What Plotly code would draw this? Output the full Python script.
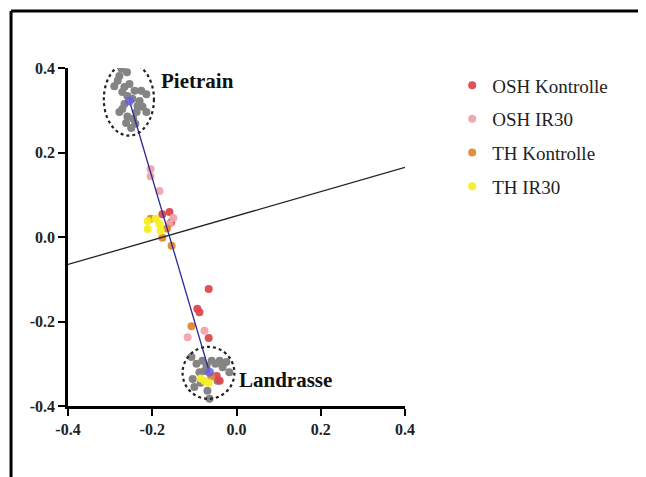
import plotly.graph_objects as go

# ---- data ----
pietrain_x = [-0.273, -0.278, -0.290, -0.266, -0.254, -0.271, -0.259, -0.242, -0.226, -0.214,
              -0.247, -0.230, -0.266, -0.223, -0.271, -0.278, -0.237, -0.214, -0.259, -0.245,
              -0.262, -0.240, -0.250, -0.282, -0.260, -0.235]
pietrain_y = [0.398, 0.381, 0.357, 0.355, 0.362, 0.343, 0.334, 0.346, 0.346, 0.338,
              0.327, 0.322, 0.315, 0.308, 0.303, 0.296, 0.296, 0.296, 0.285, 0.280,
              0.270, 0.268, 0.258, 0.370, 0.390, 0.310]
landrasse_x = [-0.107, -0.081, -0.071, -0.059, -0.040, -0.024, -0.088, -0.076, -0.033, -0.017,
               -0.104, -0.100, -0.069, -0.064, -0.050, -0.095, -0.045, -0.085]
landrasse_y = [-0.284, -0.293, -0.305, -0.293, -0.293, -0.296, -0.320, -0.317, -0.308, -0.320,
               -0.336, -0.355, -0.364, -0.383, -0.300, -0.300, -0.340, -0.345]

osh_k_x = [-0.159, -0.176, -0.066, -0.093, -0.088, -0.066, -0.047, -0.040, -0.155]
osh_k_y = [0.059, 0.054, -0.123, -0.170, -0.178, -0.239, -0.329, -0.340, 0.035]
osh_ir_x = [-0.204, -0.204, -0.183, -0.159, -0.116, -0.076, -0.150]
osh_ir_y = [0.161, 0.144, 0.109, 0.031, -0.237, -0.222, 0.045]
th_k_x = [-0.204, -0.107, -0.154, -0.176, -0.165, -0.060]
th_k_y = [0.043, -0.211, -0.021, -0.002, 0.020, -0.330]
th_ir_x = [-0.211, -0.211, -0.192, -0.183, -0.180, -0.076, -0.066, -0.085]
th_ir_y = [0.038, 0.019, 0.043, 0.031, 0.015, -0.341, -0.345, -0.335]

centroid_x = [-0.254, -0.064]
centroid_y = [0.322, -0.320]
reg_x = [-0.4, 0.4]
reg_y = [-0.065, 0.165]

group_names = ["OSH Kontrolle", "OSH IR30", "TH Kontrolle", "TH IR30"]
tick_vals = [-0.4, -0.2, 0.0, 0.2, 0.4]
tick_text = ["-0.4", "-0.2", "0.0", "0.2", "0.4"]

colors = ["#dc4850", "#f0a3ab", "#df8a2e", "#f6ee22"]
serif = "Liberation Serif, Times New Roman, serif"

fig = go.Figure()
fig.add_trace(go.Scatter(x=pietrain_x + landrasse_x, y=pietrain_y + landrasse_y, mode="markers",
                         marker=dict(color="#848484", size=8), showlegend=False, hoverinfo="skip"))

groups = [(osh_k_x, osh_k_y), (osh_ir_x, osh_ir_y), (th_k_x, th_k_y), (th_ir_x, th_ir_y)]
for i, ((gx, gy), name) in enumerate(zip(groups, group_names)):
    fig.add_trace(go.Scatter(x=gx, y=gy, mode="markers", name=name, legendgroup=name,
                             marker=dict(color=colors[i], size=8, opacity=0.95)))

fig.add_trace(go.Scatter(x=reg_x, y=reg_y, mode="lines", line=dict(color="#222222", width=1.3),
                         showlegend=False, hoverinfo="skip"))
fig.add_trace(go.Scatter(x=centroid_x, y=centroid_y, mode="lines+markers",
                         line=dict(color="#2a2a9a", width=1.3),
                         marker=dict(color="#6a5ee0", size=9, opacity=0.85),
                         showlegend=False, hoverinfo="skip"))

axis_common = dict(range=[-0.4, 0.4], tickvals=tick_vals, ticktext=tick_text,
                   showgrid=False, zeroline=False, showline=True, linecolor="black",
                   linewidth=2.5, ticks="outside", ticklen=7, tickwidth=2, tickcolor="black",
                   tickfont=dict(family=serif, size=16, color="#222222", weight="bold"))

fig.update_layout(
    width=638, height=469,
    margin=dict(l=60, r=241, t=60, b=71),
    paper_bgcolor="white", plot_bgcolor="white",
    xaxis=axis_common, yaxis=axis_common,
    showlegend=True,
    legend=dict(x=1.14, y=1.005, xanchor="left", yanchor="top", xref="paper",
                font=dict(family=serif, size=19, color="#222222"),
                tracegroupgap=6, itemsizing="trace", bgcolor="rgba(0,0,0,0)"),
    shapes=[
        dict(type="circle", xref="x", yref="y", x0=-0.315, x1=-0.196, y0=0.240, y1=0.412,
             line=dict(color="#222222", width=2.2, dash="dot")),
        dict(type="circle", xref="x", yref="y", x0=-0.128, x1=-0.005, y0=-0.383, y1=-0.260,
             line=dict(color="#222222", width=2.2, dash="dot")),
        dict(type="line", xref="paper", yref="paper", x0=-0.169, x1=2.0, y0=1.169, y1=1.169,
             line=dict(color="black", width=3)),
        dict(type="line", xref="paper", yref="paper", x0=-0.169, x1=-0.169, y0=1.169, y1=-1.0,
             line=dict(color="black", width=3)),
    ],
    annotations=[
        dict(x=-0.185, y=0.369, xref="x", yref="y", text="<b>Pietrain</b>", showarrow=False,
             xanchor="left", yanchor="middle", font=dict(family=serif, size=21, color="#111111")),
        dict(x=0.002, y=-0.338, xref="x", yref="y", text="<b>Landrasse</b>", showarrow=False,
             xanchor="left", yanchor="middle", font=dict(family=serif, size=21, color="#111111")),
    ],
)

fig.write_html("out.html")
